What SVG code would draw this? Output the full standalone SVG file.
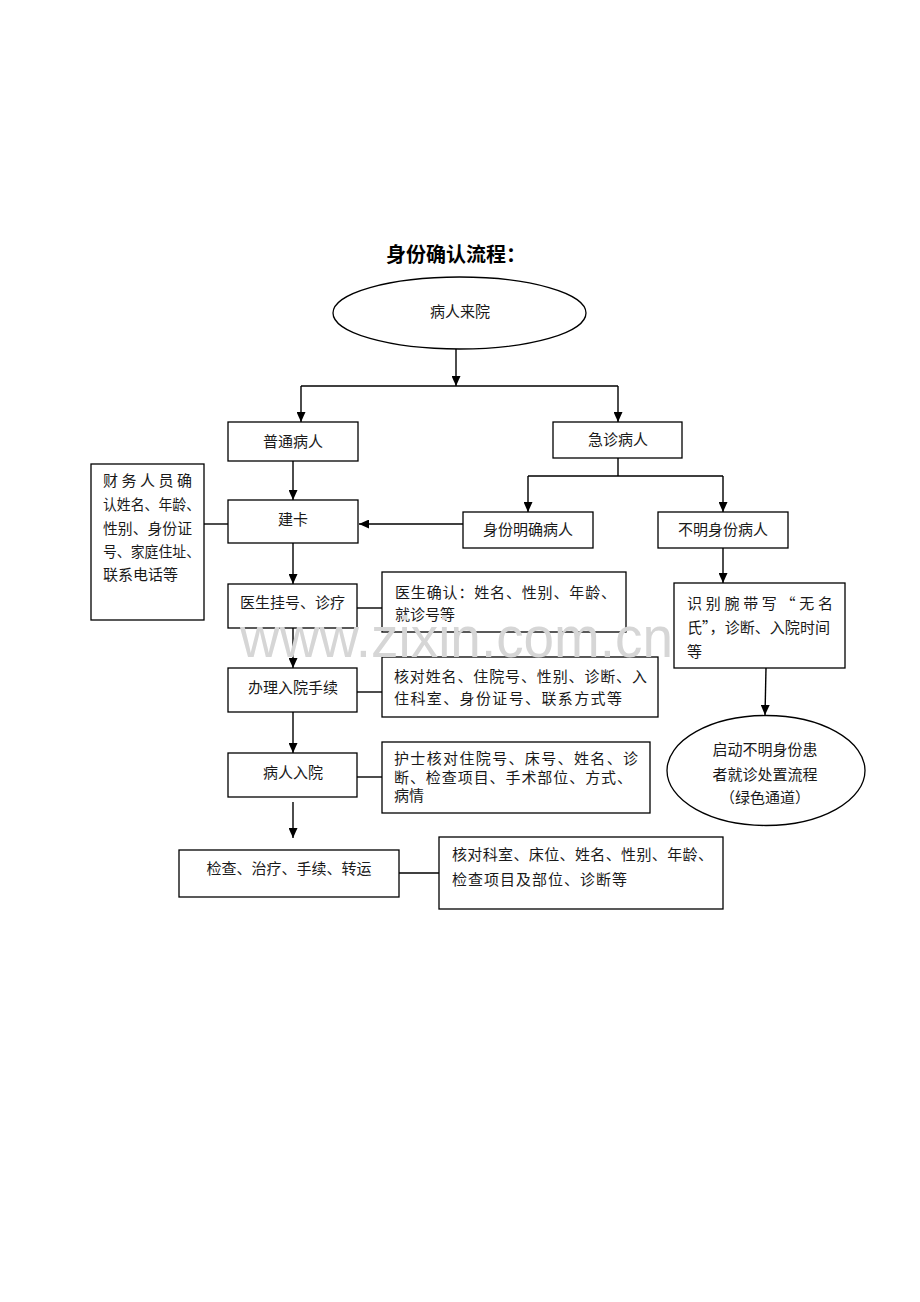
<svg xmlns="http://www.w3.org/2000/svg" width="920" height="1302" viewBox="0 0 920 1302">
<style>
.t{font-family:"Noto Sans CJK SC","Liberation Sans",sans-serif;font-size:15px;fill:#1a1a1a}
.c{text-anchor:middle}
.title{font-family:"Noto Sans CJK SC","Liberation Sans",sans-serif;font-size:20px;font-weight:bold;fill:#000;text-anchor:middle}
.box{fill:#fff;stroke:#000;stroke-width:1.3}
.ln{fill:none;stroke:#000;stroke-width:1.4}
.wm{font-family:"Liberation Sans",Arial,sans-serif;font-size:57px;fill:#d6d6d6}
</style>
<defs>
<marker id="ah" markerUnits="userSpaceOnUse" markerWidth="10" markerHeight="9" refX="10" refY="4.5" orient="auto">
<path d="M0,0 L10,4.5 L0,9 z" fill="#000"/>
</marker>
</defs>
<rect width="920" height="1302" fill="#fff"/>
<text class="title" x="456" y="262">身份确认流程：</text>

<g id="connectors">
<path class="ln" d="M456,349 V386" marker-end="url(#ah)"/>
<path class="ln" d="M301,386 H618"/>
<path class="ln" d="M301,386 V422" marker-end="url(#ah)"/>
<path class="ln" d="M618,386 V422" marker-end="url(#ah)"/>
<path class="ln" d="M293,461 V500" marker-end="url(#ah)"/>
<path class="ln" d="M463,524 H359" marker-end="url(#ah)"/>
<path class="ln" d="M204,524 H228"/>
<path class="ln" d="M618,458 V476 M528,476 H723"/>
<path class="ln" d="M528,476 V512" marker-end="url(#ah)"/>
<path class="ln" d="M723,476 V512" marker-end="url(#ah)"/>
<path class="ln" d="M293,543 V584" marker-end="url(#ah)"/>
<path class="ln" d="M357,608 H382"/>
<path class="ln" d="M723,548 V583" marker-end="url(#ah)"/>
<path class="ln" d="M293,628 V668" marker-end="url(#ah)"/>
<path class="ln" d="M357,692 H382"/>
<path class="ln" d="M293,712 V753" marker-end="url(#ah)"/>
<path class="ln" d="M357,777 H382"/>
<path class="ln" d="M293,802 V838" marker-end="url(#ah)"/>
<path class="ln" d="M399,873 H439"/>
<path class="ln" d="M766,668 L765,715" marker-end="url(#ah)"/>
</g>

<g id="n-start">
<ellipse class="box" cx="459.5" cy="313" rx="126.5" ry="36"/>
<text class="t c" x="460" y="317">病人来院</text>
</g>
<g id="n-normal">
<rect class="box" x="228" y="422" width="130" height="39"/>
<text class="t c" x="293" y="447">普通病人</text>
</g>
<g id="n-emergency">
<rect class="box" x="553" y="422" width="129" height="36"/>
<text class="t c" x="618" y="445">急诊病人</text>
</g>
<g id="n-finance">
<rect class="box" x="91" y="464" width="113" height="156"/>
<text class="t" x="103" y="486" textLength="89" lengthAdjust="spacing">财务人员确</text>
<text class="t" x="103" y="510" textLength="97" lengthAdjust="spacingAndGlyphs">认姓名、年龄、</text>
<text class="t" x="103" y="534" textLength="89" lengthAdjust="spacingAndGlyphs">性别、身份证</text>
<text class="t" x="103" y="557" textLength="97" lengthAdjust="spacingAndGlyphs">号、家庭住址、</text>
<text class="t" x="103" y="580">联系电话等</text>
</g>
<g id="n-card">
<rect class="box" x="228" y="500" width="130" height="43"/>
<text class="t c" x="293" y="525">建卡</text>
</g>
<g id="n-known">
<rect class="box" x="463" y="512" width="130" height="36"/>
<text class="t c" x="528" y="535">身份明确病人</text>
</g>
<g id="n-unknown">
<rect class="box" x="658" y="512" width="130" height="36"/>
<text class="t c" x="723" y="535">不明身份病人</text>
</g>
<g id="n-register">
<rect class="box" x="228" y="584" width="129" height="44"/>
<text class="t" x="240" y="608" textLength="105" lengthAdjust="spacingAndGlyphs">医生挂号、诊疗</text>
</g>
<g id="n-doctor-confirm">
<rect class="box" x="382" y="572" width="244" height="60"/>
<text class="t" x="395" y="598" textLength="221" lengthAdjust="spacing">医生确认：姓名、性别、年龄、</text>
<text class="t" x="395" y="620">就诊号等</text>
</g>
<g id="n-wristband">
<rect class="box" x="674" y="583" width="171" height="85"/>
<text class="t" x="687" y="609" textLength="146" lengthAdjust="spacing">识别腕带写“无名</text>
<text class="t" x="687" y="633" textLength="143" lengthAdjust="spacingAndGlyphs">氏”，诊断、入院时间</text>
<text class="t" x="687" y="657">等</text>
</g>
<g id="n-admission">
<rect class="box" x="228" y="668" width="129" height="44"/>
<text class="t c" x="293" y="693">办理入院手续</text>
</g>
<g id="n-check-admission">
<rect class="box" x="382" y="657" width="276" height="60"/>
<text class="t" x="394" y="682" textLength="253" lengthAdjust="spacing">核对姓名、住院号、性别、诊断、入</text>
<text class="t" x="394" y="704" textLength="228" lengthAdjust="spacing">住科室、身份证号、联系方式等</text>
</g>
<g id="n-green">
<ellipse class="box" cx="766" cy="770.5" rx="99" ry="55"/>
<text class="t c" x="765" y="755">启动不明身份患</text>
<text class="t c" x="765" y="780">者就诊处置流程</text>
<text class="t c" x="765" y="803">（绿色通道）</text>
</g>
<g id="n-inpatient">
<rect class="box" x="228" y="753" width="129" height="44"/>
<text class="t c" x="293" y="778">病人入院</text>
</g>
<g id="n-nurse">
<rect class="box" x="382" y="742" width="268" height="71"/>
<text class="t" x="394" y="764" textLength="244" lengthAdjust="spacing">护士核对住院号、床号、姓名、诊</text>
<text class="t" x="394" y="783" textLength="238" lengthAdjust="spacing">断、检查项目、手术部位、方式、</text>
<text class="t" x="394" y="801">病情</text>
</g>
<g id="n-exam">
<rect class="box" x="179" y="850" width="220" height="47"/>
<text class="t c" x="289" y="874">检查、治疗、手续、转运</text>
</g>
<g id="n-check-dept">
<rect class="box" x="439" y="837" width="284" height="72"/>
<text class="t" x="452" y="860" textLength="261" lengthAdjust="spacing">核对科室、床位、姓名、性别、年龄、</text>
<text class="t" x="452" y="885" textLength="175" lengthAdjust="spacing">检查项目及部位、诊断等</text>
</g>
<text class="wm" x="240" y="657" textLength="433" lengthAdjust="spacingAndGlyphs">www.zixin.com.cn</text>
</svg>
